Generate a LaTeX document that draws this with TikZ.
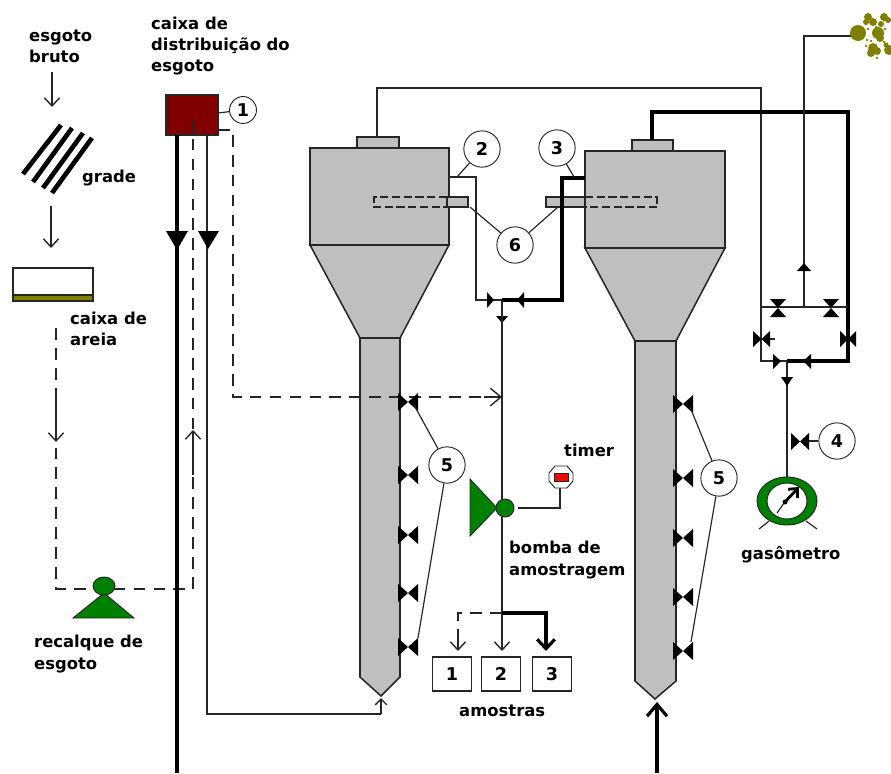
\documentclass[tikz,border=0pt]{standalone}
\usepackage{fontspec}
\setmainfont{DejaVu Sans}
\usetikzlibrary{arrows.meta}
\definecolor{tankgray}{gray}{0.75}
\definecolor{boxred}{RGB}{128,0,0}
\definecolor{pumpgreen}{RGB}{0,128,0}
\definecolor{sandolive}{RGB}{128,128,0}
\definecolor{linegray}{gray}{0.15}
\tikzset{
  lab/.style={font=\fontsize{14}{18}\selectfont\bfseries,align=left,anchor=west,inner sep=0pt,text=black},
  thinp/.style={draw=linegray,line width=1.2pt},
  thickp/.style={draw=black,line width=2.7pt},
  dashp/.style={draw=linegray,line width=1.1pt,dash pattern=on 10pt off 7pt},
  barb/.style={-{Straight Barb[length=7pt,width=13pt]}},
  tank/.style={fill=tankgray,draw=linegray,line width=1.3pt},
  numc/.style={draw=linegray,circle,fill=white,line width=0.8pt,minimum size=31pt,inner sep=0pt,font=\fontsize{15}{15}\selectfont\bfseries},
  smp/.style={draw=linegray,rectangle,fill=white,line width=0.9pt,minimum width=34pt,minimum height=29pt,inner sep=0pt,font=\fontsize{15}{15}\selectfont\bfseries},
  lead/.style={draw=linegray,line width=1pt},
}

\begin{document}
\begin{tikzpicture}[x=0.03cm,y=-0.03cm]
  \useasboundingbox (0,0) rectangle (891,773);
  % left: bar screen and sand box
  \draw[thinp,barb] (52,72) -- (52,107);
  \draw[black,line width=4pt] (23,174) -- (61,125);
  \draw[black,line width=4pt] (33,182) -- (72,128);
  \draw[black,line width=4pt] (43,188) -- (83,133);
  \draw[black,line width=4pt] (52,193) -- (92,138);
  \draw[thinp,barb] (51,206) -- (51,248);
  \filldraw[fill=white,draw=linegray,line width=1pt] (13,268) rectangle (93,295);
  \filldraw[fill=sandolive,draw=linegray,line width=1pt] (13,295) rectangle (93,301);
  % sewage lift
  \coordinate (sandout) at (56,328);
  \coordinate (liftL) at (56,589);
  \coordinate (liftR) at (193,589);
  \coordinate (redtop) at (193,120);
  \draw[dashp] (sandout) -- (liftL) -- (liftR) -- (redtop);
  \draw[thinp,barb] (56,397) -- (56,442);
  \draw[thinp,barb] (193,475) -- (193,430);
  \filldraw[fill=pumpgreen,draw=linegray,line width=0.8pt] (73,618) -- (104,593) -- (134,618) -- cycle;
  \filldraw[fill=pumpgreen,draw=linegray,line width=0.8pt] (104,586) ellipse [x radius=11,y radius=9];
  % distribution box
  \filldraw[fill=boxred,draw=linegray,line width=0.9pt] (166,95) rectangle (218,135);
  \draw[thinp] (193,120) -- (193,135);
  \coordinate (bigtop) at (177,135);
  \coordinate (bigend) at (177,773);
  \coordinate (feedtop) at (207,133);
  \coordinate (feedbot) at (207,714);
  \coordinate (tipA) at (381,714);
  \draw[thickp] (bigtop) -- (bigend);
  \fill[black] (166,231) -- (188,231) -- (177,250) -- cycle;
  \draw[thinp] (feedtop) -- (feedbot) -- (tipA);
  \fill[black] (198,231) -- (219,231) -- (208,249) -- cycle;
  \node[numc,minimum size=23pt] (n1) at (243,110) {1};
  \coordinate (redR) at (218,113);
  \draw[lead] (redR) -- (n1);
  % reactor A
  \filldraw[tank] (360,338) -- (360,677) -- (381,696) -- (400,677) -- (400,338) -- cycle;
  \filldraw[tank] (310,245) -- (449,245) -- (400,338) -- (360,338) -- cycle;
  \filldraw[tank] (310,148) rectangle (449,245);
  \filldraw[tank] (357,137) rectangle (399,148);
  \filldraw[fill=tankgray,draw=linegray,line width=1pt] (447,197) rectangle (468,207);
  \draw[linegray,line width=1pt,dash pattern=on 7pt off 3pt] (447,197) -- (374,197) -- (374,207) -- (447,207);
  \draw[thinp,-{Straight Barb[length=5pt,width=10pt]}] (tipA) -- (381,698);
  % reactor B
  \filldraw[tank] (635,341) -- (635,681) -- (655,699) -- (676,681) -- (676,341) -- cycle;
  \filldraw[tank] (585,248) -- (725,248) -- (676,341) -- (635,341) -- cycle;
  \filldraw[tank] (585,151) rectangle (725,248);
  \filldraw[tank] (632,140) rectangle (673,151);
  \filldraw[fill=tankgray,draw=linegray,line width=1pt] (546,197) rectangle (585,207);
  \draw[linegray,line width=1pt,dash pattern=on 7pt off 3pt] (585,197) -- (657,197) -- (657,207) -- (585,207);
  \draw[thickp,-{Straight Barb[length=10pt,width=17pt]}] (657,773) -- (657,702);
  % overflow line
  \coordinate (overA) at (233,130);
  \coordinate (overB) at (233,397);
  \coordinate (overC) at (502,397);
  \draw[dashp] (218,130) -- (overA) -- (overB) -- (484,397);
  \draw[thinp,-{Straight Barb[length=9pt,width=15pt]}] (484,397) -- (overC);
  % valves on the columns
  \foreach \yy in {402,475,535,593,647}
    \fill[black] (398,\yy) ++(0,-9) -- ++(20,18) -- ++(0,-18) -- ++(-20,18) -- cycle;
  \foreach \yy in {404,478,538,597,651}
    \fill[black] (673,\yy) ++(0,-9) -- ++(20,18) -- ++(0,-18) -- ++(-20,18) -- cycle;
  \node[numc] (n5a) at (447,465) {5};
  \node[numc] (n5b) at (719,478) {5};
  \coordinate (vA1) at (414,405);
  \coordinate (vA5) at (418,638);
  \coordinate (vB1) at (690,407);
  \coordinate (vB5) at (691,642);
  \draw[lead] (n5a) -- (vA1);
  \draw[lead] (n5a) -- (vA5);
  \draw[lead] (n5b) -- (vB1);
  \draw[lead] (n5b) -- (vB5);
  % biogas lines
  \coordinate (gasA) at (377,137);
  \coordinate (gasAtop) at (377,88);
  \coordinate (gasAr) at (761,88);
  \coordinate (boxSW) at (761,361);
  \coordinate (gasB) at (652,140);
  \coordinate (gasBtop) at (652,112);
  \coordinate (gasBr) at (848,112);
  \coordinate (boxSE) at (848,361);
  \coordinate (joint) at (787,361);
  \coordinate (burnerA) at (804,307);
  \coordinate (burnerB) at (804,36);
  \coordinate (burnerC) at (855,36);
  \coordinate (meter) at (787,477);
  \draw[thinp] (gasA) -- (gasAtop) -- (gasAr) -- (boxSW) -- (joint);
  \draw[thickp,line join=miter] (gasB) -- (gasBtop) -- (gasBr) -- (boxSE) -- (joint);
  \draw[thinp] (burnerA) -- (burnerB) -- (burnerC);
  \draw[thinp] (761,307) -- (848,307);
  \draw[thinp] (joint) -- (meter);
  \fill[black] (804,263) -- (811,271) -- (797,271) -- cycle;
  \foreach \xx in {778,831}
    \fill[black] (\xx,308) ++(-8,-9) -- ++(16,18) -- ++(-16,0) -- ++(16,-18) -- cycle;
  \fill[black] (753,331) -- (770,347) -- (770,331) -- (753,347) -- cycle;
  \draw[thinp] (770,339) -- (775,339);
  \fill[black] (840,331) -- (856,347) -- (856,331) -- (840,347) -- cycle;
  \fill[black] (773,354) -- (781,361) -- (773,369) -- cycle;
  \fill[black] (811,354) -- (803,361) -- (811,369) -- cycle;
  \fill[black] (781,377) -- (793,377) -- (787,386) -- cycle;
  \fill[black] (791,433) -- (809,450) -- (809,433) -- (791,450) -- cycle;
  \node[numc] (n4) at (837,441) {4};
  \coordinate (v4) at (809,441);
  \draw[lead] (v4) -- (n4);
  % gas meter
  \filldraw[fill=pumpgreen,draw=linegray,line width=0.8pt,even odd rule] (787,501) ellipse [x radius=30,y radius=24] (787,501) ellipse [x radius=20,y radius=18];
  \draw[thickp,line width=2.4pt,-{Straight Barb[length=6pt,width=11pt]}] (784,503) -- (799,487);
  \draw[lead] (777,513) -- (784,503);
  \fill[black] (785,502) circle (2.5);
  \draw[lead] (759,529) -- (769,521);
  \draw[lead] (817,529) -- (806,521);
  % flare
  \foreach \xx/\yy/\rr in {858/33/8,868/17/4,873/22/4,866/22/3,884/17/4,881/24/3,888/20/3,878/33/6,880/38/4,873/48/5,871/53/4,877/51/4,889/50/5,886/45/2.5}
    \fill[sandolive] (\xx,\yy) circle (\rr);
  \foreach \xx/\yy in {867/40,871/41,876/27,868/29,885/29,866/46,877/58,884/42}
    \fill[sandolive] (\xx,\yy) circle (1.3);
  % tubes between the reactors
  \coordinate (tapA) at (449,177);
  \coordinate (tapAc) at (476,177);
  \coordinate (tapAd) at (476,300);
  \coordinate (tapB) at (585,178);
  \coordinate (tapBc) at (562,178);
  \coordinate (tapBd) at (562,300);
  \coordinate (mid) at (502,300);
  \draw[thinp] (tapA) -- (tapAc) -- (tapAd) -- (mid);
  \draw[thickp] (tapB) -- (tapBc) -- (tapBd) -- (mid);
  \fill[black] (487,292) -- (494,300) -- (487,308) -- cycle;
  \fill[black] (524,292) -- (517,300) -- (524,308) -- cycle;
  \fill[black] (496,316) -- (508,316) -- (502,323) -- cycle;
  \node[numc] (n2) at (482,149) {2};
  \node[numc] (n3) at (557,148) {3};
  \node[numc] (n6) at (515,245) {6};
  \coordinate (lead2) at (457,177);
  \coordinate (lead3) at (574,177);
  \coordinate (lead6a) at (470,207);
  \coordinate (lead6b) at (558,207);
  \draw[lead] (n2) -- (lead2);
  \draw[lead] (n3) -- (lead3);
  \draw[lead] (n6) -- (lead6a);
  \draw[lead] (n6) -- (lead6b);
  % sampling pump
  \draw[thinp] (mid) -- (502,500);
  \filldraw[fill=pumpgreen,draw=linegray,line width=0.8pt] (470,479) -- (497,508) -- (470,536) -- cycle;
  \filldraw[fill=pumpgreen,draw=linegray,line width=0.8pt] (505,508) circle (9);
  \coordinate (timeA) at (518,508);
  \coordinate (timeB) at (560,508);
  \coordinate (timeC) at (560,487);
  \draw[thinp] (timeA) -- (timeB) -- (timeC);
  \filldraw[fill=white,draw=linegray,line width=0.8pt] (555,466) -- (567,466) -- (573,473) -- (573,481) -- (567,488) -- (555,488) -- (549,481) -- (549,473) -- cycle;
  \filldraw[fill=red,draw=linegray,line width=0.8pt] (554,473) rectangle (568,481);
  % samples
  \node[smp] (s1) at (452,674) {1};
  \node[smp] (s2) at (501,674) {2};
  \node[smp] (s3) at (552,674) {3};
  \coordinate (splitC) at (502,613);
  \coordinate (splitL) at (458,613);
  \coordinate (splitR) at (546,613);
  \draw[thinp] (502,517) -- (splitC);
  \draw[thinp,barb] (splitC) -- (502,651);
  \draw[dashp] (splitC) -- (splitL) -- (458,635);
  \draw[thinp,barb] (458,635) -- (458,651);
  \draw[thickp,-{Straight Barb[length=8pt,width=15pt]}] (splitC) -- (splitR) -- (546,651);
  % labels
  \node[lab] (tbruto) at (29,46) {esgoto\\bruto};
  \node[lab] (tcaixa) at (151,46) {caixa de\\distribuição do\\esgoto};
  \node[lab] (tgrade) at (82,178) {grade};
  \node[lab] (tareia) at (70,329) {caixa de\\areia};
  \node[lab] (trecal) at (34,654) {recalque de\\esgoto};
  \node[lab] (ttimer) at (564,450) {timer};
  \node[lab] (tbomba) at (509,560) {bomba de\\amostragem};
  \node[lab] (tamos) at (459,711) {amostras};
  \node[lab] (tgaso) at (741,555) {gasômetro};
\end{tikzpicture}
\end{document}
